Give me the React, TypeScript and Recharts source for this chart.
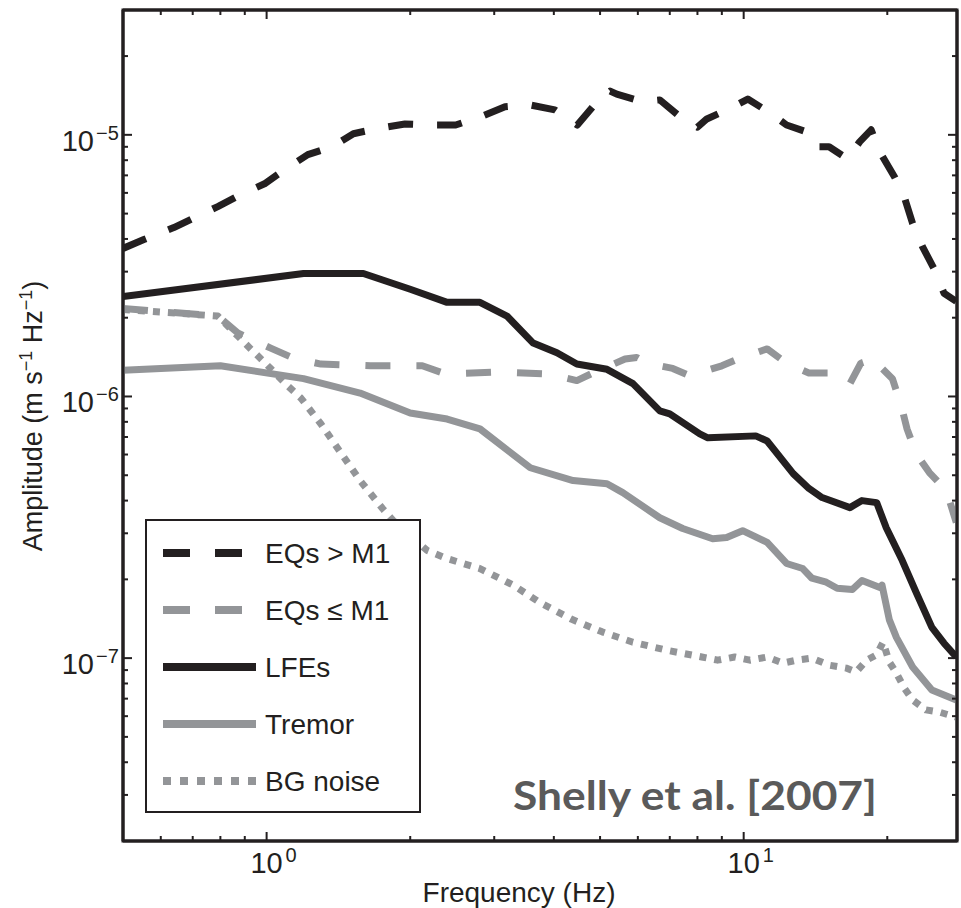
import React from 'react'
import { LineChart, Line, XAxis, YAxis, Legend, Customized } from 'recharts'

// spectra: frequency (Hz) and amplitude (m s^-1 Hz^-1)
const eqLargeFreq = [0.5, 0.553, 0.639, 0.79, 0.882, 0.99, 1.09, 1.22, 1.37, 1.52, 1.72, 1.95, 2.2, 2.49, 2.8, 3.16, 3.57, 4.02, 4.48, 4.88, 5.25, 5.42, 6.12, 6.67, 7.45, 8.0, 8.37, 9.35, 10.2, 11.3, 12.3, 13.9, 14.4, 15.1, 16.5, 17.5, 18.5, 19.3, 20.7, 21.7, 22.6, 23.7, 25.1, 26.3, 27.9]
const eqLargeAmp = [3.68e-6, 3.98e-6, 4.42e-6, 5.32e-6, 5.91e-6, 6.5e-6, 7.36e-6, 8.4e-6, 9.0e-6, 1.01e-5, 1.06e-5, 1.1e-5, 1.09e-5, 1.09e-5, 1.17e-5, 1.28e-5, 1.3e-5, 1.245e-5, 1.09e-5, 1.31e-5, 1.47e-5, 1.43e-5, 1.34e-5, 1.36e-5, 1.15e-5, 1.07e-5, 1.15e-5, 1.26e-5, 1.37e-5, 1.22e-5, 1.09e-5, 1.01e-5, 9.0e-6, 9.0e-6, 8.1e-6, 9.4e-6, 1.045e-5, 8.6e-6, 6.92e-6, 5.8e-6, 4.58e-6, 3.74e-6, 3.06e-6, 2.48e-6, 2.31e-6]

const eqSmallFreq = [0.5, 0.79, 0.87, 1.02, 1.14, 1.3, 1.65, 2.12, 2.37, 3.04, 3.89, 4.47, 4.83, 5.64, 5.97, 6.27, 7.1, 7.71, 9.0, 9.81, 11.2, 12.3, 13.7, 15.4, 16.7, 17.6, 18.9, 19.5, 20.5, 21.4, 22.0, 23.0, 24.5, 26.6, 27.9]
const eqSmallAmp = [2.17e-6, 2.03e-6, 1.75e-6, 1.53e-6, 1.4e-6, 1.33e-6, 1.31e-6, 1.31e-6, 1.22e-6, 1.24e-6, 1.22e-6, 1.15e-6, 1.23e-6, 1.39e-6, 1.41e-6, 1.34e-6, 1.28e-6, 1.2e-6, 1.31e-6, 1.4e-6, 1.52e-6, 1.34e-6, 1.23e-6, 1.23e-6, 1.12e-6, 1.34e-6, 1.4e-6, 1.28e-6, 1.17e-6, 9.2e-7, 7.52e-7, 6.04e-7, 5.12e-7, 4.37e-7, 3.3e-7]

const lfeFreq = [0.5, 1.195, 1.595, 2.0, 2.39, 2.8, 3.19, 3.62, 4.06, 4.47, 5.17, 5.86, 6.67, 7.0, 8.09, 8.41, 10.6, 11.2, 12.7, 13.7, 14.6, 16.7, 17.7, 19.0, 19.9, 21.5, 23.0, 24.8, 26.3, 27.9]
const lfeAmp = [2.41e-6, 2.95e-6, 2.95e-6, 2.57e-6, 2.29e-6, 2.29e-6, 2.03e-6, 1.6e-6, 1.47e-6, 1.33e-6, 1.27e-6, 1.12e-6, 8.81e-7, 8.58e-7, 7.19e-7, 6.95e-7, 7.07e-7, 6.76e-7, 5.07e-7, 4.45e-7, 4.11e-7, 3.76e-7, 4.0e-7, 3.93e-7, 3.15e-7, 2.36e-7, 1.78e-7, 1.31e-7, 1.14e-7, 1.01e-7]

const tremorFreq = [0.5, 0.8, 1.195, 1.57, 2.0, 2.39, 2.8, 3.57, 4.39, 5.17, 5.58, 6.67, 7.45, 8.61, 9.21, 9.95, 11.2, 12.3, 13.3, 13.9, 14.9, 15.7, 16.9, 17.7, 19.3, 19.5, 20.2, 20.9, 22.6, 24.8, 27.9]
const tremorAmp = [1.26e-6, 1.31e-6, 1.17e-6, 1.03e-6, 8.65e-7, 8.2e-7, 7.52e-7, 5.34e-7, 4.77e-7, 4.64e-7, 4.29e-7, 3.44e-7, 3.13e-7, 2.86e-7, 2.89e-7, 3.07e-7, 2.77e-7, 2.3e-7, 2.2e-7, 2.02e-7, 1.95e-7, 1.85e-7, 1.83e-7, 1.98e-7, 1.86e-7, 1.9e-7, 1.4e-7, 1.2e-7, 9.25e-8, 7.56e-8, 6.92e-8]

const noiseFreq = [0.5, 0.79, 0.926, 0.986, 1.106, 1.18, 1.3, 1.43, 1.57, 1.75, 1.84, 2.17, 2.39, 2.8, 3.29, 3.74, 4.35, 5.05, 5.86, 6.93, 8.17, 8.82, 9.58, 10.3, 11.2, 12.1, 12.9, 13.9, 15.1, 16.4, 17.2, 18.1, 19.0, 19.6, 20.2, 20.9, 21.7, 22.6, 24.1, 25.7, 27.9]
const noiseAmp = [2.15e-6, 2.03e-6, 1.52e-6, 1.36e-6, 1.1e-6, 9.86e-7, 7.85e-7, 6.1e-7, 4.77e-7, 3.73e-7, 3.36e-7, 2.58e-7, 2.4e-7, 2.2e-7, 1.9e-7, 1.63e-7, 1.41e-7, 1.26e-7, 1.15e-7, 1.07e-7, 1.01e-7, 9.82e-8, 1.01e-7, 9.82e-8, 1.01e-7, 9.57e-8, 9.82e-8, 1.0e-7, 9.4e-8, 9.16e-8, 8.85e-8, 9.82e-8, 1.03e-7, 1.15e-7, 9.66e-8, 8.77e-8, 7.69e-8, 6.92e-8, 6.34e-8, 6.22e-8, 5.95e-8]

const xTicks = [0.6, 0.7, 0.8, 0.9, 1, 2, 3, 4, 5, 6, 7, 8, 9, 10, 20]
const yTicks = [3e-8, 4e-8, 5e-8, 6e-8, 7e-8, 8e-8, 9e-8, 1e-7, 2e-7, 3e-7, 4e-7, 5e-7, 6e-7, 7e-7, 8e-7, 9e-7, 1e-6, 2e-6, 3e-6, 4e-6, 5e-6, 6e-6, 7e-6, 8e-6, 9e-6, 1e-5, 2e-5]

const FONT = "'Liberation Sans', Arial, Helvetica, sans-serif"
const INK = '#231f20'
const GREY = '#939598'

const zip = (f: number[], a: number[]) => f.map((v, i) => ({ f: v, a: a[i] }))

const series = [
  { key: 'eqLarge', name: 'EQs > M1', color: INK, dash: '25 24', legendDash: '27 25', data: zip(eqLargeFreq, eqLargeAmp) },
  { key: 'eqSmall', name: 'EQs \u2264 M1', color: GREY, dash: '25 26', legendDash: '27 25', data: zip(eqSmallFreq, eqSmallAmp) },
  { key: 'lfe', name: 'LFEs', color: INK, dash: undefined, legendDash: undefined, data: zip(lfeFreq, lfeAmp) },
  { key: 'tremor', name: 'Tremor', color: GREY, dash: undefined, legendDash: undefined, data: zip(tremorFreq, tremorAmp) },
  { key: 'noise', name: 'BG noise', color: GREY, dash: '7 8', legendDash: '8 9', data: zip(noiseFreq, noiseAmp) },
]
// grey curves go underneath the black ones
const drawOrder = ['noise', 'tremor', 'eqSmall', 'lfe', 'eqLarge']

const isDecade = (v: number) => {
  const l = Math.log10(v)
  return Math.abs(l - Math.round(l)) < 1e-6
}
const expText = (v: number) => {
  const e = Math.round(Math.log10(v))
  return e < 0 ? '\u2212' + Math.abs(e) : String(e)
}

function BottomTick({ x, y, payload }: any) {
  const major = isDecade(payload.value)
  return (
    <g>
      <line x1={x} x2={x} y1={y} y2={y - (major ? 9 : 5)} stroke={INK} strokeWidth={2} />
      {major && (
        <g fontFamily={FONT} fill={INK}>
          <text x={x} y={y + 32} textAnchor="middle" fontSize={29}>10</text>
          <text x={x + 19} y={y + 21} fontSize={20}>{expText(payload.value)}</text>
        </g>
      )}
    </g>
  )
}

function TopTick({ x, y, payload }: any) {
  const major = isDecade(payload.value)
  return <line x1={x} x2={x} y1={y} y2={y + (major ? 9 : 5)} stroke={INK} strokeWidth={2} />
}

function LeftTick({ x, y, payload }: any) {
  const major = isDecade(payload.value)
  return (
    <g>
      <line x1={x} x2={x + (major ? 9 : 5)} y1={y} y2={y} stroke={INK} strokeWidth={2} />
      {major && (
        <g fontFamily={FONT} fill={INK}>
          <text x={x - 29} y={y + 16} textAnchor="end" fontSize={29}>10</text>
          <text x={x - 27} y={y + 5} fontSize={20}>{expText(payload.value)}</text>
        </g>
      )}
    </g>
  )
}

function RightTick({ x, y, payload }: any) {
  const major = isDecade(payload.value)
  return <line x1={x} x2={x - (major ? 9 : 5)} y1={y} y2={y} stroke={INK} strokeWidth={2} />
}

function Titles() {
  return (
    <g fontFamily={FONT} fill={INK}>
      <text x={519} y={902} textAnchor="middle" fontSize={28}>Frequency (Hz)</text>
      <text transform="translate(42,416) rotate(-90)" textAnchor="middle" fontSize={27}>
        Amplitude (m s<tspan dy={-10} fontSize={18}>{'\u22121'}</tspan>
        <tspan dy={10}> Hz</tspan><tspan dy={-10} fontSize={18}>{'\u22121'}</tspan>
        <tspan dy={10}>)</tspan>
      </text>
      <text x={513} y={810} fontFamily="Lato, 'Open Sans', sans-serif" fontWeight={700} fontSize={40}
        fill="#5a5a5a" textLength={364} lengthAdjust="spacingAndGlyphs">
        Shelly et al. [2007]
      </text>
      {/* box outline, in case a zero-size mirror axis is skipped */}
      <rect x={123} y={10} width={834} height={831} fill="none" stroke={INK} strokeWidth={3} />
    </g>
  )
}

function LegendBox() {
  return (
    <div style={{ width: 276, height: 294, border: `2px solid ${INK}`, boxSizing: 'border-box', background: '#fff' }}>
      <svg width={272} height={290}>
        {series.map((s, i) => {
          const cy = 32 + i * 57
          return (
            <g key={s.key}>
              <line x1={16} x2={s.legendDash && s.key !== 'noise' ? 95 : 109} y1={cy} y2={cy}
                stroke={s.color} strokeWidth={8} strokeDasharray={s.legendDash} />
              <text x={118} y={cy + 10} fontFamily={FONT} fontSize={28} fill={INK}>{s.name}</text>
            </g>
          )
        })}
      </svg>
    </div>
  )
}

export default function App() {
  return (
    <div style={{ position: 'absolute', left: 0, top: 0, background: '#fff' }}>
      <LineChart width={961} height={908} margin={{ top: 9, right: 3, bottom: 0, left: 0 }}>
        <XAxis xAxisId="x" dataKey="f" type="number" scale="log" domain={[0.5, 28]} allowDataOverflow
          ticks={xTicks} interval={0} tick={<BottomTick />} tickLine={false} tickSize={0} tickMargin={0}
          height={67} axisLine={{ stroke: INK, strokeWidth: 3 }} />
        <XAxis xAxisId="xt" orientation="top" dataKey="f" type="number" scale="log" domain={[0.5, 28]} allowDataOverflow
          ticks={xTicks} interval={0} tick={<TopTick />} tickLine={false} tickSize={0} tickMargin={0}
          height={1} axisLine={{ stroke: INK, strokeWidth: 3 }} />
        <YAxis yAxisId="y" type="number" scale="log" domain={[2e-8, 3e-5]} allowDataOverflow
          ticks={yTicks} interval={0} tick={<LeftTick />} tickLine={false} tickSize={0} tickMargin={0}
          width={123} axisLine={{ stroke: INK, strokeWidth: 3 }} />
        <YAxis yAxisId="yr" orientation="right" type="number" scale="log" domain={[2e-8, 3e-5]} allowDataOverflow
          ticks={yTicks} interval={0} tick={<RightTick />} tickLine={false} tickSize={0} tickMargin={0}
          width={1} axisLine={{ stroke: INK, strokeWidth: 3 }} />
        {drawOrder.map((k) => {
          const s = series.find((d) => d.key === k)!
          return (
            <Line key={s.key} xAxisId="x" yAxisId="y" data={s.data} dataKey="a" name={s.name}
              type="linear" stroke={s.color} strokeWidth={7} strokeDasharray={s.dash}
              strokeLinejoin="round" dot={false} activeDot={false} isAnimationActive={false} />
          )
        })}
        <Customized component={Titles} />
        <Legend layout="vertical" align="center" verticalAlign="middle" content={<LegendBox />}
          wrapperStyle={{ left: 145, top: 519, width: 276, height: 294 }} />
      </LineChart>
    </div>
  )
}
